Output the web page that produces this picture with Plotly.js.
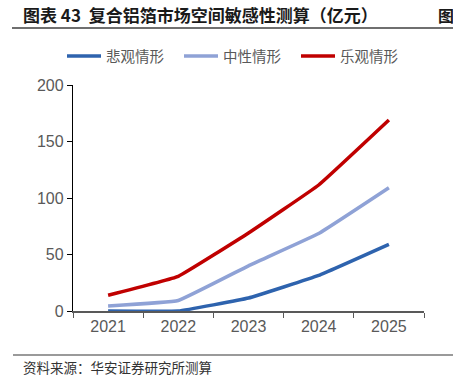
<!DOCTYPE html>
<html><head><meta charset="utf-8">
<script src="https://cdn.plot.ly/plotly-3.0.1.min.js"></script>
<style>html,body{margin:0;padding:0;background:#fff;}#chart{width:453px;height:381px;}</style>
</head><body><div id="chart"></div>
<script>
const years = ['2021','2022','2023','2024','2025'];
const pessimistic = [0, 0, 11.5, 31.5, 59];
const neutral = [4.5, 9.3, 40, 68.5, 109];
const optimistic = [14, 30.7, 69, 111.5, 169];
const seriesNames = ['悲观情形','中性情形','乐观情形'];
const colors = ['#2E63AE','#8FA2D6','#C00000'];
const cjk = '"Noto Sans CJK SC", "Liberation Sans", sans-serif';
const vals = [pessimistic, neutral, optimistic];
const traces = vals.map((v,i)=>({
  x: years, y: v, type:'scatter', mode:'lines', name: seriesNames[i],
  line:{color: colors[i], width:3.5, shape:'spline', smoothing:0.25},
  cliponaxis:false
}));
const PH = 226, PW = 351, L = 73, T = 85;
const px = x => (x - L) / PW;
const py = y => 1 + (T - y) / PH;
const layout = {
  width:453, height:381,
  margin:{l:L, r:29, t:T, b:70, autoexpand:false},
  paper_bgcolor:'#fff', plot_bgcolor:'#fff',
  showlegend:true,
  legend:{orientation:'h', x:px(62), xanchor:'left', y:py(56), yanchor:'middle',
    font:{family:cjk, size:14.5, color:'#595959'}, itemwidth:34, tracegroupgap:0,
    entrywidth:68, entrywidthmode:'pixels', bgcolor:'rgba(0,0,0,0)'},
  xaxis:{type:'category', range:[-0.5,4.5], tickson:'boundaries', ticks:'outside', ticklen:5,
    tickcolor:'#595959', showline:true, linecolor:'#595959', linewidth:1.5, showgrid:false,
    tickfont:{family:'"Liberation Sans", Arial, sans-serif', size:16, color:'#595959'}, zeroline:false},
  yaxis:{range:[0,200], dtick:50, ticks:'outside', ticklen:5, tickcolor:'#000',
    showline:true, linecolor:'#000', linewidth:1.2, showgrid:false, zeroline:false,
    tickfont:{family:'"Liberation Sans", Arial, sans-serif', size:16, color:'#595959'}},
  annotations:[
    {xref:'paper', yref:'paper', x:px(21), y:py(15), xanchor:'left', yanchor:'middle', showarrow:false,
     text:'<b>图表 43  复合铝箔市场空间敏感性测算（亿元）</b>', font:{family:cjk, size:17, color:'#1a1a1a'}},
    {xref:'paper', yref:'paper', x:px(436), y:py(15), xanchor:'left', yanchor:'middle', showarrow:false,
     text:'<b>图</b>', font:{family:cjk, size:16, color:'#1a1a1a'}},
    {xref:'paper', yref:'paper', x:px(21), y:py(367), xanchor:'left', yanchor:'middle', showarrow:false,
     text:'资料来源：华安证券研究所测算', font:{family:cjk, size:13.5, color:'#333'}}
  ],
  shapes:[
    {type:'line', xref:'paper', yref:'paper', x0:px(12), x1:px(453), y0:py(28), y1:py(28),
     line:{color:'#6f6f6f', width:2}},
    {type:'line', xref:'paper', yref:'paper', x0:px(13), x1:px(453), y0:py(355), y1:py(355),
     line:{color:'#9a9a9a', width:2}}
  ]
};
Plotly.newPlot('chart', traces, layout, {displayModeBar:false, staticPlot:true});
</script></body></html>
